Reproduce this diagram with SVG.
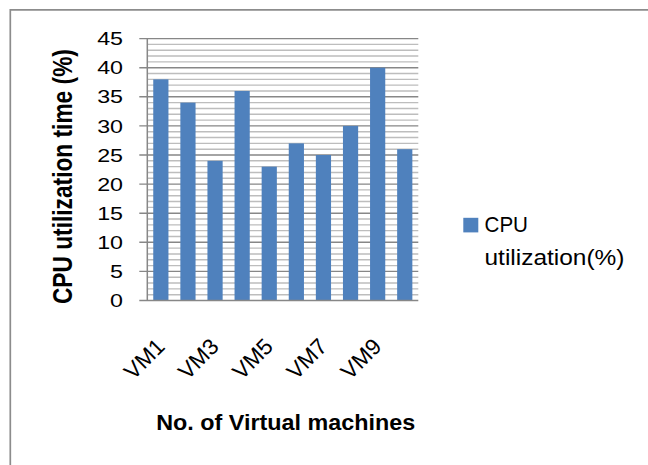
<svg xmlns="http://www.w3.org/2000/svg" width="648" height="465" viewBox="0 0 648 465">
  <style>
    .frame { fill: none; stroke: #8c8c8c; stroke-width: 1.7; }
    .minor { fill: none; stroke: #bdbdbd; stroke-width: 1.4; }
    .major { fill: none; stroke: #878787; stroke-width: 1.4; }
    .axis { fill: none; stroke: #878787; stroke-width: 1.5; }
    .bar { fill: #4f81bd; }
    .tick { font-family: "Liberation Sans", Arial, sans-serif; font-size: 18.6px; fill: #000; }
    .cat { font-family: "Liberation Sans", Arial, sans-serif; font-size: 22.5px; fill: #000; }
    .title { font-family: "Liberation Sans", Arial, sans-serif; font-size: 22.3px; font-weight: bold; fill: #000; }
    .legend { font-family: "Liberation Sans", Arial, sans-serif; font-size: 22.8px; fill: #000; }
  </style>
  <rect width="648" height="465" fill="#ffffff"/>

  <!-- chart frame (runs off the right and bottom edges) -->
  <path class="frame" d="M10.3,467 V9.8 H650"/>

  <!-- plot area: gridlines at every unit, darker every 5 -->
  <g id="gridlines">
    <path class="minor" d="M147.3,294.68H418.3M147.3,288.86H418.3M147.3,283.04H418.3M147.3,277.22H418.3
      M147.3,265.58H418.3M147.3,259.76H418.3M147.3,253.94H418.3M147.3,248.12H418.3
      M147.3,236.48H418.3M147.3,230.66H418.3M147.3,224.84H418.3M147.3,219.02H418.3
      M147.3,207.38H418.3M147.3,201.56H418.3M147.3,195.74H418.3M147.3,189.92H418.3
      M147.3,178.28H418.3M147.3,172.46H418.3M147.3,166.64H418.3M147.3,160.82H418.3
      M147.3,149.18H418.3M147.3,143.36H418.3M147.3,137.54H418.3M147.3,131.72H418.3
      M147.3,120.08H418.3M147.3,114.26H418.3M147.3,108.44H418.3M147.3,102.62H418.3
      M147.3,90.98H418.3M147.3,85.16H418.3M147.3,79.34H418.3M147.3,73.52H418.3
      M147.3,61.88H418.3M147.3,56.06H418.3M147.3,50.24H418.3M147.3,44.42H418.3"/>
    <path class="major" d="M139.3,271.4H418.3M139.3,242.3H418.3M139.3,213.2H418.3M139.3,184.1H418.3
      M139.3,155H418.3M139.3,125.9H418.3M139.3,96.8H418.3M139.3,67.7H418.3M139.3,38.6H418.3"/>
  </g>

  <!-- data series: CPU utilization(%) -->
  <g id="bars">
    <rect id="bar-vm1" class="bar" x="153.25" y="79.34" width="15.2" height="221.16"/>
    <rect id="bar-vm2" class="bar" x="180.35" y="102.62" width="15.2" height="197.88"/>
    <rect id="bar-vm3" class="bar" x="207.45" y="160.82" width="15.2" height="139.68"/>
    <rect id="bar-vm4" class="bar" x="234.55" y="90.98" width="15.2" height="209.52"/>
    <rect id="bar-vm5" class="bar" x="261.65" y="166.64" width="15.2" height="133.86"/>
    <rect id="bar-vm6" class="bar" x="288.75" y="143.36" width="15.2" height="157.14"/>
    <rect id="bar-vm7" class="bar" x="315.85" y="155" width="15.2" height="145.5"/>
    <rect id="bar-vm8" class="bar" x="342.95" y="125.9" width="15.2" height="174.6"/>
    <rect id="bar-vm9" class="bar" x="370.05" y="67.7" width="15.2" height="232.8"/>
    <rect id="bar-vm10" class="bar" x="397.15" y="149.18" width="15.2" height="151.32"/>
  </g>

  <!-- axes -->
  <g id="axes">
    <path class="axis" d="M147.3,38.6V300.5"/>
    <path class="axis" d="M139.3,300.5H418.3"/>
  </g>

  <!-- value axis labels -->
  <g id="y-ticks" class="tick" text-anchor="end" transform="translate(123,0) scale(1.25,1)">
    <text x="0" y="307.2">0</text>
    <text x="0" y="278.1">5</text>
    <text x="0" y="249">10</text>
    <text x="0" y="219.9">15</text>
    <text x="0" y="190.8">20</text>
    <text x="0" y="161.7">25</text>
    <text x="0" y="132.6">30</text>
    <text x="0" y="103.5">35</text>
    <text x="0" y="74.4">40</text>
    <text x="0" y="45.3">45</text>
  </g>

  <!-- category axis labels, slanted -->
  <g id="x-ticks" class="cat" text-anchor="end">
    <text transform="translate(166,348) rotate(-45)">VM1</text>
    <text transform="translate(220.2,348) rotate(-45)">VM3</text>
    <text transform="translate(274.4,348) rotate(-45)">VM5</text>
    <text transform="translate(328.6,348) rotate(-45)">VM7</text>
    <text transform="translate(382.8,348) rotate(-45)">VM9</text>
  </g>

  <!-- axis titles -->
  <g id="y-title">
    <text class="title" text-anchor="middle" textLength="255" lengthAdjust="spacingAndGlyphs"
      transform="translate(71.5,176.6) scale(1.22,1) rotate(-90)">CPU utilization time (%)</text>
  </g>
  <g id="x-title">
    <text class="title" x="285.7" y="430" text-anchor="middle" textLength="259" lengthAdjust="spacingAndGlyphs">No. of Virtual machines</text>
  </g>

  <!-- legend -->
  <g id="legend">
    <rect class="bar" x="463.3" y="217.8" width="15" height="14.6"/>
    <text class="legend" x="484.5" y="232.3" textLength="43.5" lengthAdjust="spacingAndGlyphs">CPU</text>
    <text class="legend" x="484.5" y="264.5" textLength="140" lengthAdjust="spacingAndGlyphs">utilization(%)</text>
  </g>
</svg>
